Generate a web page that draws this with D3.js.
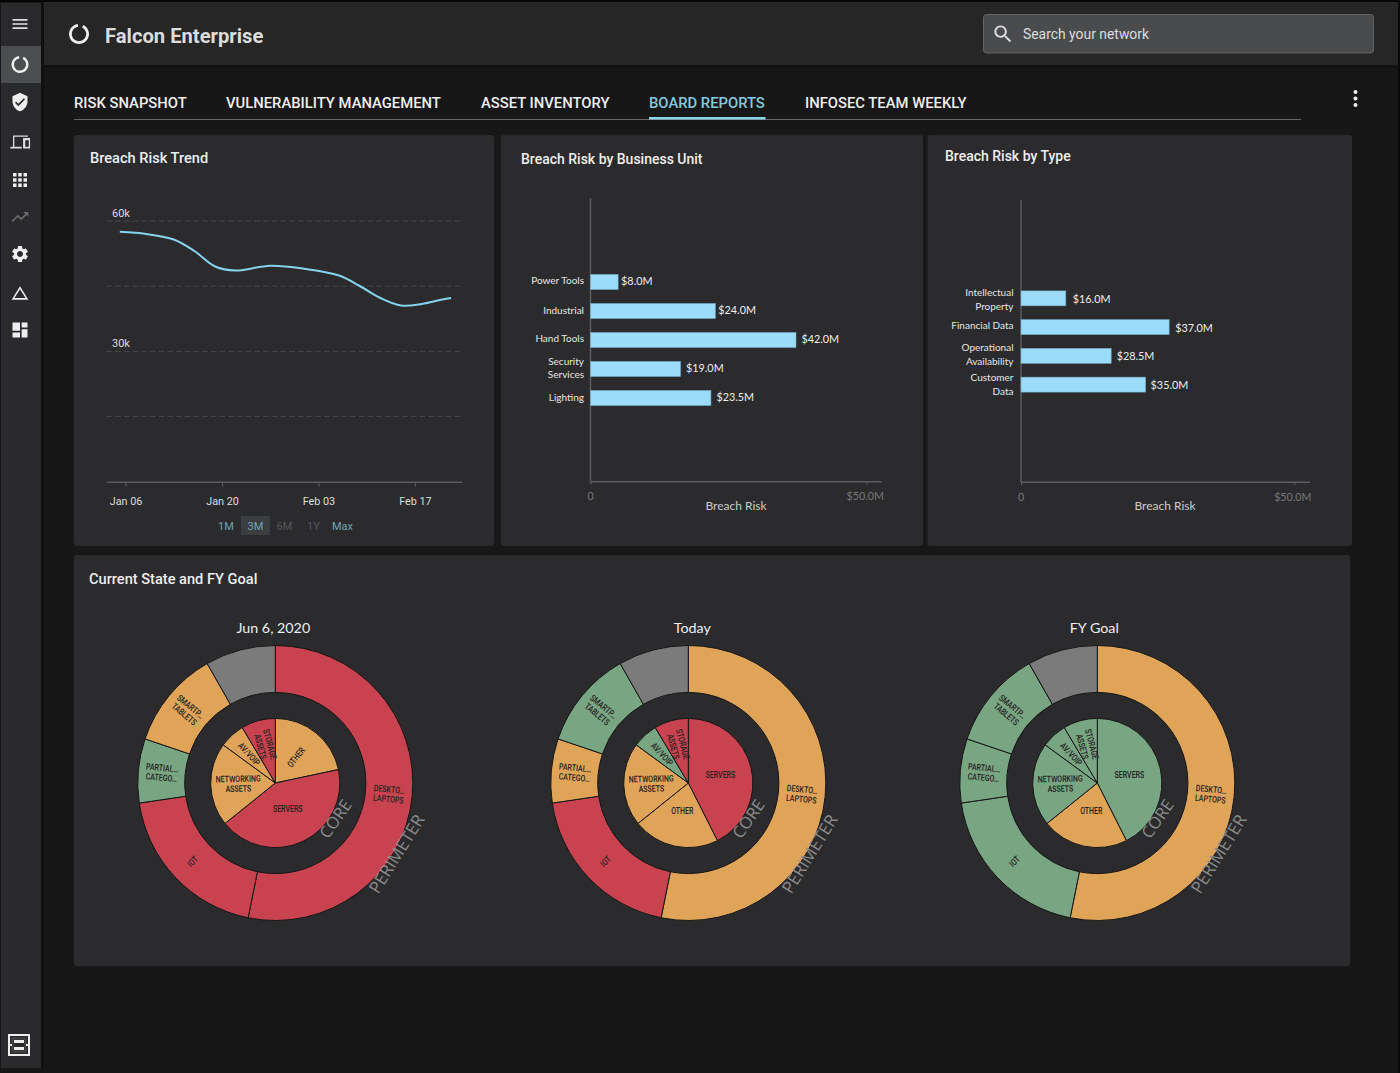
<!DOCTYPE html>
<html>
<head>
<meta charset="utf-8">
<title>Falcon Enterprise</title>
<script src="https://cdn.jsdelivr.net/npm/d3@7/dist/d3.min.js"></script>
<style>
  html, body { margin: 0; padding: 0; background: #171717; overflow: hidden; }
  svg { display: block; font-family: Roboto, sans-serif; }
</style>
</head>
<body>
<div id="chart"></div>
<script>
// ---- data ----
const tabNames = ['RISK SNAPSHOT', 'VULNERABILITY MANAGEMENT', 'ASSET INVENTORY', 'BOARD REPORTS', 'INFOSEC TEAM WEEKLY'];
const activeTab = 'BOARD REPORTS';

const trendDates = ['2020-01-05T04:00', '2020-01-09', '2020-01-13', '2020-01-16', '2020-01-19', '2020-01-22', '2020-01-27',
  '2020-02-01', '2020-02-06', '2020-02-09', '2020-02-12', '2020-02-15', '2020-02-18', '2020-02-21', '2020-02-22T06:00'];
const trendValues = [57500, 57000, 55740, 53100, 49530, 48610, 49710, 49000, 47460, 45040, 42280, 40550, 40900, 41930, 42300];
const trendTicks = ['2020-01-06', '2020-01-20', '2020-02-03', '2020-02-17'];
const trendYTicks = [0, 15000, 30000, 45000, 60000];
const rangeLabels = ['1M', '3M', '6M', '1Y', 'Max'];

// the printed labels do not scale with the drawn bars in the source, so both are kept
const unitNames = [['Power Tools'], ['Industrial'], ['Hand Tools'], ['Security', 'Services'], ['Lighting']];
const unitBarLengths = [5.0, 22.6, 37.2, 16.3, 21.8];
const unitBarLabels = ['$8.0M', '$24.0M', '$42.0M', '$19.0M', '$23.5M'];

const typeNames = [['Intellectual', 'Property'], ['Financial Data'], ['Operational', 'Availability'], ['Customer', 'Data']];
const typeBarLengths = [8.2, 27.1, 16.5, 22.8];
const typeBarLabels = ['$16.0M', '$37.0M', '$28.5M', '$35.0M'];

const perimeterNames = [['DESKTO…', 'LAPTOPS'], ['IOT'], ['PARTIAL…', 'CATEGO…'], ['SMARTP…', 'TABLETS'], []];
const perimeterShares = [191.4, 70.2, 27.1, 41.6, 29.7];

const coreNames1 = [['OTHER'], ['SERVERS'], ['NETWORKING', 'ASSETS'], ['AV/VOIP'], ['STORAGE', 'ASSETS']];
const coreShares1 = [78, 153.2, 75, 23, 30.8];
const coreNames2 = [['SERVERS'], ['OTHER'], ['NETWORKING', 'ASSETS'], ['AV/VOIP'], ['STORAGE', 'ASSETS']];
const coreShares2 = [153.2, 78, 75, 23, 30.8];

const junePerimeter = ['red', 'red', 'green', 'orange', 'grey'];
const juneCore = ['orange', 'red', 'orange', 'orange', 'red'];
const todayPerimeter = ['orange', 'red', 'orange', 'green', 'grey'];
const todayCore = ['red', 'orange', 'orange', 'green', 'red'];
const goalPerimeter = ['orange', 'green', 'green', 'green', 'grey'];
const goalCore = ['green', 'orange', 'green', 'green', 'green'];

// ---- page frame ----
const width = 1400, height = 1073;
const svg = d3.select('#chart').append('svg').attr('width', width).attr('height', height);
const statusColor = d3.scaleOrdinal()
  .domain(['red', 'orange', 'green', 'grey'])
  .range(['#c8434f', '#e0a458', '#78a582', '#7b7b7b']);
const cardColor = '#2b2b2d';

svg.append('rect').attr('width', width).attr('height', height).attr('fill', '#171717');
svg.append('rect').attr('x', 43).attr('y', 2).attr('width', 1355).attr('height', 63).attr('fill', '#262627');
svg.append('rect').attr('x', 43).attr('y', 65).attr('width', 1355).attr('height', 3).attr('fill', '#121212');
svg.append('rect').attr('x', 1).attr('y', 3).attr('width', 40).attr('height', 1065).attr('fill', '#2a2a2c');
svg.append('rect').attr('x', 41).attr('y', 3).attr('width', 3).attr('height', 1065).attr('fill', '#101010');
svg.append('rect').attr('x', 1).attr('y', 46).attr('width', 40).attr('height', 37).attr('fill', '#4b4e4e');
svg.append('rect').attr('width', width).attr('height', 2).attr('fill', '#060606');
svg.append('rect').attr('x', 1398).attr('width', 2).attr('height', height).attr('fill', '#0a0a0a');

const icons = {
  menu: 'M3 18h18v-2H3v2zm0-5h18v-2H3v2zm0-7v2h18V6H3z',
  shield: 'M12 1L3 5v6c0 5.55 3.84 10.74 9 12 5.16-1.26 9-6.45 9-12V5l-9-4zm-2 16l-4-4 1.41-1.41L10 14.17l6.59-6.59L18 9l-8 8z',
  devices: 'M4 4.5H21V6H5.5V17.5H14V19.5H.5L1.5 17.5H4Z M15.5 7.5H23.5V19.5H15.5Z M18 10V17.5H22V10Z',
  apps: 'M4 8h4V4H4v4zm6 12h4v-4h-4v4zm-6 0h4v-4H4v4zm0-6h4v-4H4v4zm6 0h4v-4h-4v4zm6-10v4h4V4h-4zm-6 4h4V4h-4v4zm6 6h4v-4h-4v4zm0 6h4v-4h-4v4z',
  trend: 'M16 6l2.29 2.29-4.88 4.88-4-4L2 16.59 3.41 18l6-6 4 4 6.3-6.29L22 12V6z',
  gear: 'M19.14 12.94c.04-.3.06-.61.06-.94 0-.32-.02-.64-.07-.94l2.03-1.58c.18-.14.23-.41.12-.61l-1.92-3.32c-.12-.22-.37-.29-.59-.22l-2.39.96c-.5-.38-1.03-.7-1.62-.94l-.36-2.54c-.04-.24-.24-.41-.48-.41h-3.84c-.24 0-.43.17-.47.41l-.36 2.54c-.59.24-1.13.57-1.62.94l-2.39-.96c-.22-.08-.47 0-.59.22L2.74 8.87c-.12.21-.08.47.12.61l2.03 1.58c-.05.3-.09.63-.09.94s.02.64.07.94l-2.03 1.58c-.18.14-.23.41-.12.61l1.92 3.32c.12.22.37.29.59.22l2.39-.96c.5.38 1.03.7 1.62.94l.36 2.54c.05.24.24.41.48.41h3.84c.24 0 .44-.17.47-.41l.36-2.54c.59-.24 1.13-.56 1.62-.94l2.39.96c.22.08.47 0 .59-.22l1.92-3.32c.12-.22.07-.47-.12-.61l-2.01-1.58zM12 15.6c-1.98 0-3.6-1.62-3.6-3.6s1.62-3.6 3.6-3.6 3.6 1.62 3.6 3.6-1.62 3.6-3.6 3.6z',
  triangle: 'M12 4L1.5 21h21L12 4zm0 3.8L19 19H5l7-11.2z',
  board: 'M3 13h9V3H3v10zm0 8h9v-6H3v6zm11 0h7V11h-7v10zm0-18v6h7V3h-7z',
  search: 'M15.5 14h-.79l-.28-.27C15.41 12.59 16 11.11 16 9.5 16 5.91 13.09 3 9.5 3S3 5.91 3 9.5 5.91 16 9.5 16c1.61 0 3.09-.59 4.23-1.57l.27.28v.79l5 4.99L20.49 19l-4.99-5zm-6 0C7.01 14 5 11.99 5 9.5S7.01 5 9.5 5 14 7.01 14 9.5 11.99 14 9.5 14z'
};

function icon(name, cx, cy, size, color) {
  svg.append('path')
    .attr('d', icons[name])
    .attr('fill', color)
    .attr('fill-rule', 'evenodd')
    .attr('transform', `translate(${cx - size / 2},${cy - size / 2}) scale(${size / 24})`);
}

function donutIcon(cx, cy, r, thickness) {
  const ring = d3.arc().innerRadius(r - thickness).outerRadius(r).startAngle(0.45).endAngle(2 * Math.PI - 0.12);
  svg.append('path').attr('d', ring()).attr('fill', '#eee').attr('transform', `translate(${cx},${cy})`);
}

icon('menu', 20, 24, 20, '#ddd');
donutIcon(20, 64.5, 8.5, 2.4);
icon('shield', 20, 102, 20, '#eee');
icon('devices', 20, 142, 21, '#ddd');
icon('apps', 20, 180, 21, '#eee');
icon('trend', 20, 217, 20, '#6b6b6b');
icon('gear', 20, 254, 20, '#eee');
icon('triangle', 20, 292.5, 19, '#eee');
icon('board', 20, 330, 20, '#eee');

// bottom sidebar button
svg.append('rect').attr('x', 9).attr('y', 1035).attr('width', 20).attr('height', 20).attr('fill', 'none').attr('stroke', '#eee').attr('stroke-width', 2);
svg.append('rect').attr('x', 12.5).attr('y', 1038.5).attr('width', 13).attr('height', 13).attr('fill', '#2a2a2c').attr('stroke', '#444').attr('stroke-width', 2);
svg.append('rect').attr('x', 14).attr('y', 1040).attr('width', 10).attr('height', 3).attr('fill', '#eee');
svg.append('rect').attr('x', 14).attr('y', 1047).attr('width', 10).attr('height', 3).attr('fill', '#eee');
svg.append('rect').attr('x', 8).attr('y', 1044).attr('width', 4).attr('height', 2).attr('fill', '#eee');
svg.append('rect').attr('x', 26).attr('y', 1044).attr('width', 4).attr('height', 2).attr('fill', '#eee');

// header
donutIcon(79, 34, 10, 2.8);
svg.append('text').attr('x', 105).attr('y', 42.5).attr('fill', '#dcdcdc')
  .attr('font-size', 20.2).attr('font-weight', 700).text('Falcon Enterprise');
svg.append('rect').attr('x', 983.5).attr('y', 14.5).attr('width', 390).attr('height', 38.5).attr('rx', 3)
  .attr('fill', '#4a4b4c').attr('stroke', '#626364');
icon('search', 1003, 34, 23, '#ddd');
svg.append('text').attr('x', 1023).attr('y', 39).attr('fill', '#ddd').attr('font-size', 13.9).text('Search your network');

// tabs
const tabX = d3.scaleOrdinal().domain(tabNames).range([74, 226, 481, 649, 805]);
svg.append('line').attr('x1', 74).attr('x2', 1301).attr('y1', 119.5).attr('y2', 119.5).attr('stroke', '#666');
svg.selectAll('.tab').data(tabNames).enter().append('text')
  .attr('class', 'tab')
  .attr('x', d => tabX(d)).attr('y', 108)
  .attr('font-size', 14.8).attr('font-weight', 500)
  .attr('fill', d => d === activeTab ? '#86c9de' : '#eee')
  .text(d => d);
svg.append('rect').attr('x', 649).attr('y', 117).attr('width', 116.5).attr('height', 2.5).attr('fill', '#8dd3e8');
svg.selectAll('.more').data([92, 98.5, 105]).enter().append('circle')
  .attr('cx', 1355.5).attr('cy', d => d).attr('r', 2).attr('fill', '#eee');

// cards
function card(x, y, w, h, title, tx, ty, size) {
  svg.append('rect').attr('x', x).attr('y', y).attr('width', w).attr('height', h).attr('rx', 3).attr('fill', cardColor);
  svg.append('text').attr('x', tx).attr('y', ty).attr('fill', '#eee')
    .attr('font-size', size).attr('font-weight', 500).text(title);
}
card(74, 135, 420, 411, 'Breach Risk Trend', 90, 163, 14.6);
card(501, 135, 422, 411, 'Breach Risk by Business Unit', 521, 163.5, 14);
card(927.5, 135, 424.5, 411, 'Breach Risk by Type', 945, 160.5, 14);
card(74, 555, 1276, 411, 'Current State and FY Goal', 89, 583.5, 14.6);

// ---- trend line ----
const toDate = s => new Date(s.length > 10 ? s + 'Z' : s + 'T00:00Z');
const trendX = d3.scaleUtc()
  .domain([toDate('2020-01-03T05:00'), toDate('2020-02-23T19:00')])
  .range([106.3, 461.7]);
const trendY = d3.scaleLinear().domain([0, 60000]).range([481.7, 221]);

const trend = svg.append('g');
trend.selectAll('.grid').data(trendYTicks.filter(d => d > 0)).enter().append('line')
  .attr('x1', trendX.range()[0]).attr('x2', trendX.range()[1])
  .attr('y1', d => trendY(d)).attr('y2', d => trendY(d))
  .attr('stroke', '#48484a').attr('stroke-dasharray', '6 2.7');
trend.selectAll('.ylabel').data([60000, 30000]).enter().append('text')
  .attr('x', 112).attr('y', d => trendY(d) - 4.5)
  .attr('fill', '#ddd').attr('font-size', 11).text(d => d / 1000 + 'k');

const trendAxis = trend.append('g')
  .attr('transform', `translate(0,${trendY(0)})`)
  .call(d3.axisBottom(trendX)
    .tickValues(trendTicks.map(toDate))
    .tickFormat(d3.utcFormat('%b %d'))
    .tickSize(5).tickSizeOuter(0).tickPadding(11));
trendAxis.select('.domain').attr('stroke', '#5a5c5c').attr('stroke-width', 1.5);
trendAxis.selectAll('.tick line').attr('stroke', '#5a5c5c');
trendAxis.selectAll('.tick text').attr('fill', '#ddd').attr('font-size', 10.8).attr('font-family', 'Roboto, sans-serif');

const trendLine = d3.line()
  .x(d => trendX(toDate(d.date)))
  .y(d => trendY(d.value))
  .curve(d3.curveCatmullRom.alpha(0.5));
trend.append('path')
  .datum(trendDates.map((date, i) => ({ date, value: trendValues[i] })))
  .attr('d', trendLine)
  .attr('fill', 'none').attr('stroke', '#86d3ee').attr('stroke-width', 2);

// range selector
const rangeX = d3.scaleOrdinal().domain(rangeLabels).range([226, 255.5, 284.5, 313.5, 342.5]);
svg.append('rect').attr('x', 241).attr('y', 516).attr('width', 29).attr('height', 19).attr('fill', '#3a3e3e');
svg.selectAll('.range').data(rangeLabels).enter().append('text')
  .attr('x', d => rangeX(d)).attr('y', 529.5).attr('text-anchor', 'middle').attr('font-size', 11)
  .attr('fill', d => d === '6M' || d === '1Y' ? '#565758' : '#6fa5b0')
  .text(d => d);

// ---- horizontal bars ----
function barChart(o) {
  const g = svg.append('g');
  const x = d3.scaleLinear().domain([0, 50]).range([o.x0, o.x50]);
  const y = d3.scaleBand().domain(o.names.map(d => d.join(' '))).range(o.band).paddingInner(0.48).paddingOuter(0.24);

  g.append('line').attr('x1', o.x0).attr('x2', o.x0).attr('y1', o.top).attr('y2', o.axisY).attr('stroke', '#5c5d5e').attr('stroke-width', 1.5);
  const axis = g.append('g').attr('transform', `translate(0,${o.axisY})`)
    .call(d3.axisBottom(x).tickValues([0, 50]).tickFormat(d => d ? '$50.0M' : '0').tickSize(3).tickSizeOuter(0).tickPadding(8));
  axis.select('.domain').attr('d', `M${o.x0},0H${o.axisEnd}`).attr('stroke', '#5c5d5e').attr('stroke-width', 1.5);
  axis.selectAll('.tick line').attr('stroke', '#5c5d5e');
  axis.selectAll('.tick text').attr('fill', '#777').attr('font-size', 10.7).attr('font-family', 'Lato, sans-serif');
  axis.selectAll('.tick').filter(d => d === 50).select('text').attr('dx', -2);
  axis.selectAll('.tick').filter(d => d === 0).select('text').attr('dx', -0.5);

  const rows = g.selectAll('.row').data(o.names).enter().append('g')
    .attr('transform', d => `translate(0,${y(d.join(' ')) + y.bandwidth() / 2})`);
  rows.append('rect')
    .attr('x', o.x0).attr('y', -y.bandwidth() / 2)
    .attr('width', (d, i) => x(o.lengths[i]) - o.x0).attr('height', y.bandwidth())
    .attr('fill', '#9bdcfb').attr('stroke', '#6fa9c2').attr('stroke-width', 0.6);
  rows.append('text')
    .attr('x', (d, i) => x(o.lengths[i]) + o.valueGaps[i]).attr('y', 4 + o.valueShift)
    .attr('fill', '#eee').attr('font-size', 10.8).attr('font-family', 'Lato, sans-serif')
    .text((d, i) => o.labels[i]);
  rows.each(function (d, r) {
    const label = d3.select(this).append('text')
      .attr('text-anchor', 'end').attr('fill', '#e6e6e6').attr('font-size', 10).attr('font-family', 'Lato, sans-serif');
    d.forEach((line, i) => label.append('tspan')
      .attr('x', o.labelX)
      .attr('y', 3 + o.labelShifts[r] + (i - (d.length - 1) / 2) * 13.4)
      .text(line));
  });
  g.append('text').attr('x', o.titleX).attr('y', 509.5).attr('text-anchor', 'middle')
    .attr('fill', '#ccc').attr('font-size', 12).attr('font-family', 'Lato, sans-serif').text('Breach Risk');
}

barChart({
  names: unitNames, lengths: unitBarLengths, labels: unitBarLabels,
  x0: 590.5, x50: 866.7, axisEnd: 881.7, top: 198, axisY: 481.7,
  band: [267.5, 412.5], labelX: 584, titleX: 736, valueShift: -1.5,
  valueGaps: [3, 3, 5.5, 5.5, 5.5], labelShifts: [-1.5, 0, -1.5, -0.5, -0.5]
});
barChart({
  names: typeNames, lengths: typeBarLengths, labels: typeBarLabels,
  x0: 1021, x50: 1294.3, axisEnd: 1310, top: 200, axisY: 482.3,
  band: [284, 399], labelX: 1013.5, titleX: 1165, valueShift: 0.5,
  valueGaps: [7, 6, 5.5, 5], labelShifts: [1.5, -1, -1, 0.5]
});

// ---- sunbursts ----
const pie = d3.pie().sort(null).value(d => d.share);
const outerR = 137.5, ringR = 90.6, coreR = 64.6;

function ring(g, names, shares, status, inner, outer, labelRadius, isFlat) {
  const rows = names.map((name, i) => ({ name, share: shares[i], status: status[i] }));
  const arc = d3.arc().innerRadius(inner).outerRadius(outer);
  const slices = g.append('g').selectAll('g').data(pie(rows)).enter().append('g');
  slices.append('path')
    .attr('d', arc)
    .attr('fill', d => statusColor(d.data.status))
    .attr('stroke', '#161616').attr('stroke-width', 1);
  slices.each(function (d) {
    const mid = (d.startAngle + d.endAngle) / 2;
    const radius = labelRadius(d);
    const px = Math.sin(mid) * radius, py = -Math.cos(mid) * radius;
    let deg = mid * 180 / Math.PI - 90;
    if (deg > 90) deg -= 180;
    if (isFlat(d.data.name[0])) deg = 0;
    const label = d3.select(this).append('text')
      .attr('transform', `translate(${px},${py}) rotate(${deg}) scale(.78,1)`)
      .attr('text-anchor', 'middle').attr('fill', '#26221f').attr('font-size', 9).attr('font-weight', 500);
    d.data.name.forEach((line, i) => label.append('tspan')
      .attr('x', 0)
      .attr('y', 3 + (i - (d.data.name.length - 1) / 2) * 9.8)
      .text(line));
  });
}

function coreLabelRadius(d, flatNames) {
  if (d.data.name[0] === 'SERVERS') return d.startAngle === 0 ? 33 : 29;
  if (d.data.name[0] === 'OTHER') return flatNames.includes('OTHER') ? 28.5 : 33;
  return d.data.share > 70 ? 37 : 39;
}

function sunburst(cx, titleX, title, perimeterStatus, coreNames, coreShares, coreStatus, flatNames) {
  const g = svg.append('g').attr('transform', `translate(${cx},783)`);
  g.append('text').attr('x', titleX).attr('y', -150).attr('text-anchor', 'middle').attr('fill', '#eee')
    .attr('font-size', 14.3).attr('font-family', 'Lato, sans-serif').text(title);
  ring(g, perimeterNames, perimeterShares, perimeterStatus, ringR, outerR, () => 114, () => false);
  ring(g, coreNames, coreShares, coreStatus, 0, coreR,
    d => coreLabelRadius(d, flatNames),
    name => flatNames.includes(name));
  g.append('text').attr('transform', 'translate(61.4,36.7) rotate(-55)')
    .attr('text-anchor', 'middle').attr('dominant-baseline', 'middle').attr('fill', '#8c8c8c')
    .attr('font-size', 16.5).attr('font-family', '"Open Sans", sans-serif').text('CORE');
  g.append('text').attr('transform', 'translate(122.7,71.7) rotate(-58)')
    .attr('text-anchor', 'middle').attr('dominant-baseline', 'middle').attr('fill', '#8c8c8c')
    .attr('font-size', 17).attr('font-family', '"Open Sans", sans-serif').text('PERIMETER');
}

sunburst(275.3, -2, 'Jun 6, 2020', junePerimeter, coreNames1, coreShares1, juneCore, ['SERVERS']);
sunburst(688.3, 4, 'Today', todayPerimeter, coreNames2, coreShares2, todayCore, ['SERVERS', 'OTHER']);
sunburst(1097.3, -3, 'FY Goal', goalPerimeter, coreNames2, coreShares2, goalCore, ['SERVERS', 'OTHER']);
</script>
</body>
</html>
